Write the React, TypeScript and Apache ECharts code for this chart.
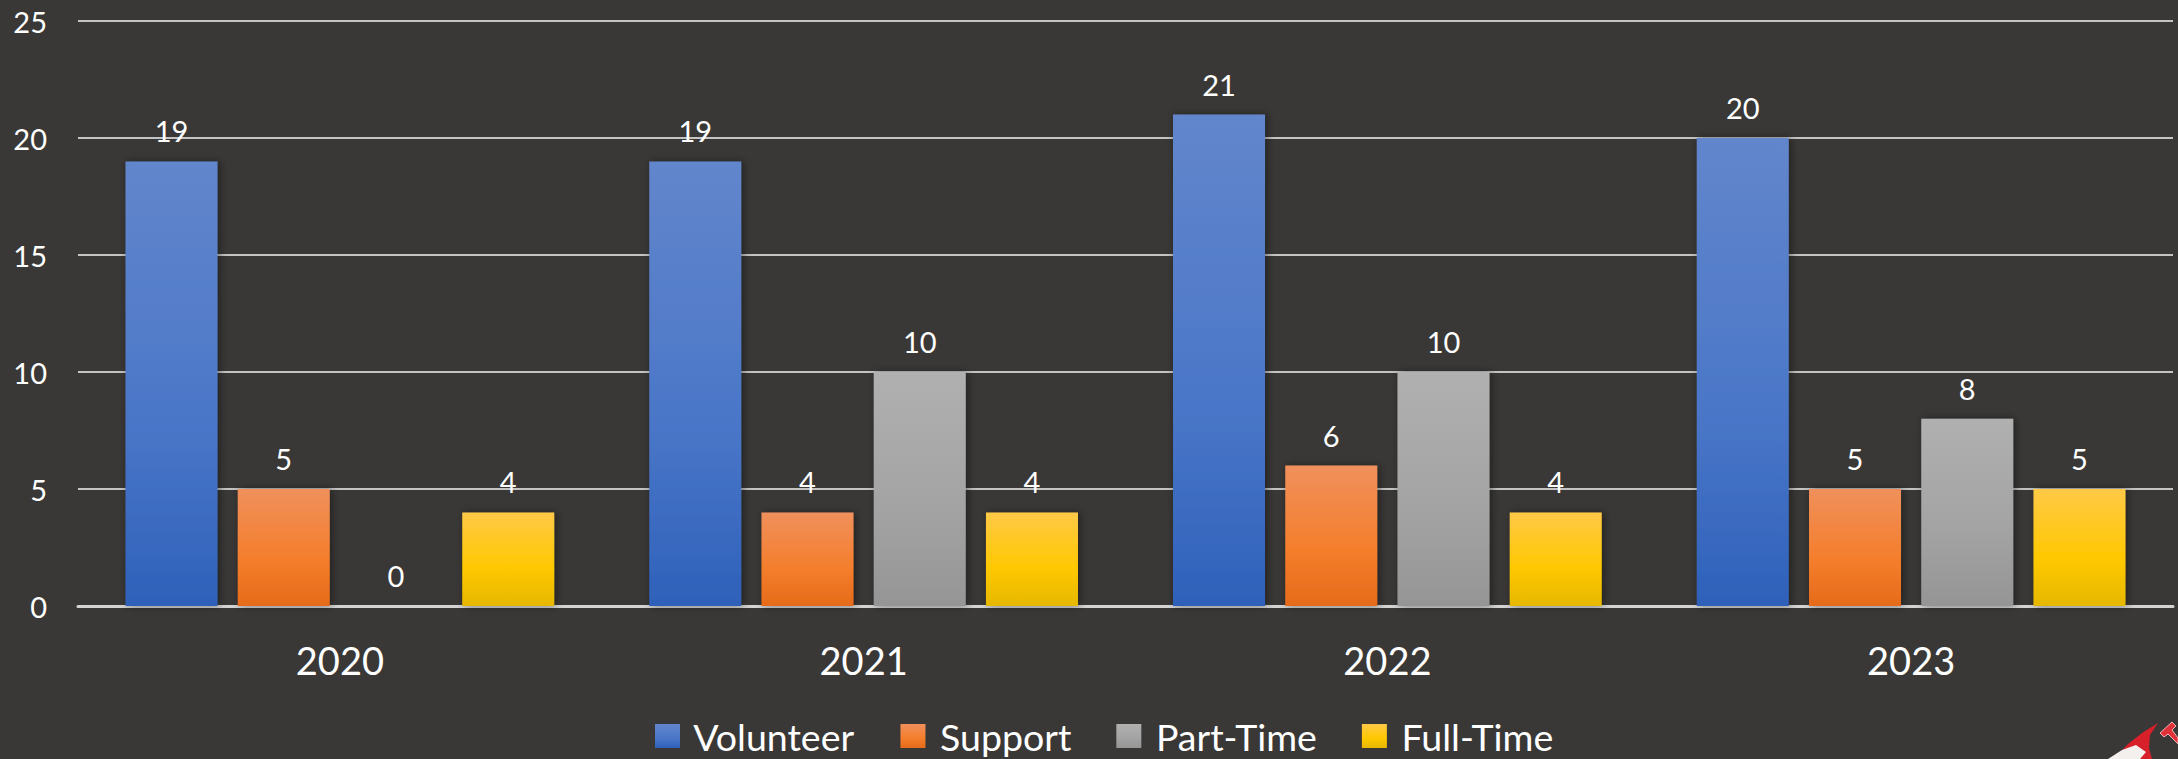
import React, { useEffect, useRef } from "react";
import * as echarts from "echarts";

const years = ["2020", "2021", "2022", "2023"];
const seriesNames = ["Volunteer", "Support", "Part-Time", "Full-Time"];
const volunteer = [19, 19, 21, 20];
const support = [5, 4, 6, 5];
const partTime = [0, 10, 10, 8];
const fullTime = [4, 4, 4, 5];
const yTicks = [0, 5, 10, 15, 20, 25];

const gradients = [
  ["#6286cc", "#4a76c8", "#2e61ba"],
  ["#f0905c", "#f47e2c", "#e66b1a"],
  ["#b0b0b0", "#a3a3a3", "#959595"],
  ["#ffc947", "#ffc800", "#e6b800"],
];

const FONT = "Lato, 'Open Sans', sans-serif";

export default function App() {
  const ref = useRef<HTMLDivElement>(null);
  useEffect(() => {
    if (!ref.current) return;
    const chart = echarts.init(ref.current, undefined, { renderer: "svg" });
    const values = [volunteer, support, partTime, fullTime];
    const grad = (c: string[]) =>
      new echarts.graphic.LinearGradient(0, 0, 0, 1, [
        { offset: 0, color: c[0] },
        { offset: 0.6, color: c[1] },
        { offset: 1, color: c[2] },
      ]);
    chart.setOption({
      animation: false,
      backgroundColor: "#393836",
      textStyle: { fontFamily: FONT },
      grid: { left: 78, right: 5, top: 21, bottom: 153, containLabel: false },
      legend: {
        data: seriesNames,
        top: 712,
        left: 650,
        icon: "rect",
        itemWidth: 25,
        itemHeight: 24,
        itemGap: 45,
        formatter: (name: string) => " " + name,
        textStyle: { color: "#ffffff", fontSize: 37.5, fontFamily: FONT },
      },
      xAxis: {
        type: "category",
        data: years,
        axisLine: { show: true, lineStyle: { color: "#d4d4d4", width: 3 } },
        axisTick: { show: false },
        axisLabel: { color: "#ffffff", fontSize: 38, margin: 35, fontFamily: FONT },
      },
      yAxis: {
        type: "value",
        min: yTicks[0],
        max: yTicks[yTicks.length - 1],
        interval: 5,
        axisLine: { show: false },
        axisTick: { show: false },
        axisLabel: { color: "#ffffff", fontSize: 29, margin: 31, fontFamily: FONT },
        splitLine: { show: true, lineStyle: { color: "#c4c4c4", width: 2 } },
      },
      series: seriesNames.map((name, i) => ({
        name,
        type: "bar",
        data: values[i],
        barWidth: 92,
        barGap: "22%",
        itemStyle: {
          color: grad(gradients[i]),
          shadowBlur: 8,
          shadowColor: "rgba(0,0,0,0.45)",
          shadowOffsetX: 2,
          shadowOffsetY: 0,
        },
        label: {
          show: true,
          position: "top",
          distance: 16,
          color: "#ffffff",
          fontSize: 29,
          fontFamily: FONT,
        },
      })),
      graphic: [
        {
          type: "polygon",
          shape: {
            points: [
              [2114, 759], [2128, 744], [2142, 733], [2158, 723], [2150, 735], [2149, 748], [2152, 759],
            ],
          },
          style: { fill: "#d8202a" },
        },
        {
          type: "polygon",
          shape: { points: [[2108, 759], [2122, 750], [2136, 745], [2146, 752], [2140, 759]] },
          style: { fill: "#f4f0ee" },
        },
        {
          type: "polygon",
          shape: {
            points: [
              [2160, 733], [2172, 722], [2176, 726], [2172, 730], [2178, 738], [2178, 744], [2168, 734], [2164, 737],
            ],
          },
          style: { fill: "#e0303a", stroke: "#f2b5b5", lineWidth: 1 },
        },
      ],
    });
    return () => chart.dispose();
  }, []);
  return (
    <div
      ref={ref}
      style={{ position: "fixed", left: 0, top: 0, width: 2178, height: 759 }}
    />
  );
}
